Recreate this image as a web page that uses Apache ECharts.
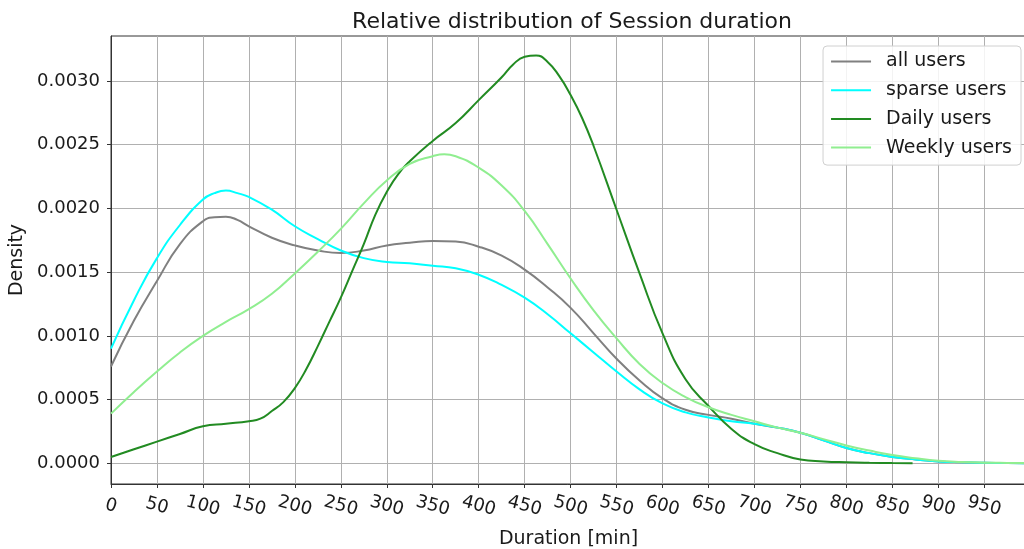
<!DOCTYPE html>
<html>
<head>
<meta charset="utf-8">
<script src="https://cdn.jsdelivr.net/npm/echarts@6/dist/echarts.min.js"></script>
<style>
html,body{margin:0;padding:0;background:#fff;}
#c{width:1024px;height:549px;}
</style>
</head>
<body>
<div id="c"></div>
<script>
// Duration values (minutes) read per series
const allDur = [0,25,50,75,100,112.5,125,137.5,150,175,200,225,250,275,300,325,350,375,400,425,450,475,500,525,550,575,600,625,650,675,700,725,750,775,800,825,850,875,900,925,950,975,1000];
const allUsers = [0.00076,0.00112,0.00143,0.00172,0.00190,0.00193,0.001935,0.00191,0.00186,0.00177,0.00171,0.00167,0.00165,0.00167,0.00171,0.00173,0.001745,0.00174,0.00170,0.00163,0.00152,0.00138,0.00122,0.00102,0.00082,0.00065,0.00051,0.00042,0.00038,0.00035,0.00031,0.00028,0.00024,0.00018,0.00012,0.00008,0.00005,0.00003,0.000015,0.000008,0.000004,0.000002,0.000001];
const sparseDur = [0,25,50,75,100,112.5,125,137.5,150,175,200,225,250,275,300,325,350,375,400,425,450,475,500,525,550,575,600,625,650,675,700,725,750,775,800,825,850,875,900,925,950,975,1000];
const sparseUsers = [0.00090,0.00128,0.00161,0.00187,0.00207,0.00212,0.00214,0.00212,0.00209,0.00199,0.00186,0.00176,0.00167,0.00161,0.00158,0.00157,0.00155,0.00153,0.00148,0.00140,0.00130,0.00117,0.00102,0.00087,0.00072,0.00058,0.00047,0.00040,0.00036,0.00033,0.00031,0.00028,0.00024,0.00018,0.00012,0.00008,0.00005,0.00003,0.000015,0.000008,0.000004,0.000002,0.000001];
const dailyDur = [0,25,50,75,100,125,150,162.5,175,187.5,200,212.5,225,237.5,250,262.5,275,287.5,300,312.5,325,350,375,400,425,437.5,450,462.5,475,487.5,500,512.5,525,550,575,600,625,650,675,700,725,750,775,800,825,850,872];
const dailyUsers = [0.00005,0.00011,0.00017,0.00023,0.00029,0.00031,0.00033,0.00035,0.00041,0.00048,0.00059,0.00074,0.00092,0.00111,0.00130,0.00151,0.00172,0.00195,0.00213,0.00227,0.00237,0.00253,0.00267,0.00285,0.00303,0.00313,0.00319,0.00320,0.00315,0.00304,0.00289,0.00271,0.00249,0.00199,0.00149,0.00102,0.00066,0.00045,0.00027,0.00015,0.00008,0.00003,0.000015,0.000008,0.000004,0.000002,0.000001];
const weeklyDur = [0,25,50,75,100,125,150,175,200,225,250,275,300,325,350,362.5,375,400,425,450,475,500,525,550,575,600,625,650,675,700,725,750,775,800,825,850,875,900,925,950,975,1000];
const weeklyUsers = [0.00039,0.00056,0.00072,0.00087,0.00100,0.00111,0.00121,0.00133,0.00149,0.00166,0.00184,0.00204,0.00222,0.00235,0.00241,0.002425,0.00241,0.00232,0.00218,0.00198,0.00172,0.00145,0.00120,0.00098,0.00078,0.00063,0.00052,0.00044,0.00038,0.00033,0.00028,0.00024,0.00019,0.00014,0.00010,0.000065,0.00004,0.00002,0.00001,0.000005,0.000003,0.000002];
const xTicks = [0,50,100,150,200,250,300,350,400,450,500,550,600,650,700,750,800,850,900,950];
const yTicks = [0,0.0005,0.001,0.0015,0.002,0.0025,0.003];

const FONT = 'DejaVu Sans';
function pairs(xs, ys){ return xs.map((x,i)=>[x, ys[i]]); }
function line(name, xs, ys, color){
  return {name, type:'line', data: pairs(xs, ys), smooth: 0.5, symbol:'none',
    lineStyle:{color, width:2}, itemStyle:{color}, z: 3, animation:false};
}
const chart = echarts.init(document.getElementById('c'), null, {renderer:'canvas'});
chart.setOption({
  animation:false,
  backgroundColor:'#fff',
  title:{text:'Relative distribution of Session duration', left:567, top:6, textAlign:'center',
    textStyle:{fontFamily:FONT, fontSize:22, fontWeight:'normal', color:'#1a1a1a'}},
  legend:{orient:'vertical', right:3, top:46, itemWidth:40, itemHeight:19, itemGap:9.7,
    padding:[6,9,8,7], backgroundColor:'rgba(255,255,255,0.85)', borderColor:'#d0d0d0', borderWidth:1, borderRadius:4,
    itemStyle:{opacity:0}, lineStyle:{width:2},
    textStyle:{fontFamily:FONT, fontSize:19, color:'#1a1a1a', padding:[0,0,0,10], lineHeight:19},
    data:['all users','sparse users','Daily users','Weekly users']},
  grid:{left:111, right:-2, top:36, bottom:65, show:true, borderColor:'#333', borderWidth:1,
    containLabel:false, outerBoundsMode:'none'},
  xAxis:{type:'value', min:0, max:995.4, name:'Duration [min]', nameLocation:'middle', nameGap:46,
    nameTextStyle:{fontFamily:FONT, fontSize:19, color:'#1a1a1a'},
    axisLine:{show:true, onZero:false, lineStyle:{color:'#333', width:1}},
    axisTick:{show:true, length:4, lineStyle:{color:'#333'}, customValues:xTicks},
    axisLabel:{customValues:xTicks, rotate:-15, align:'center', verticalAlign:'middle', margin:22,
      fontFamily:FONT, fontSize:18, color:'#1a1a1a'},
    splitLine:{show:true, lineStyle:{color:'#b0b0b0', width:1}}},
  yAxis:{type:'value', min:-0.0001624, max:0.0033532, name:'Density', nameLocation:'middle', nameGap:75,
    nameTextStyle:{fontFamily:FONT, fontSize:19, color:'#1a1a1a'},
    axisLine:{show:true, onZero:false, lineStyle:{color:'#333', width:1}},
    axisTick:{show:true, length:4, lineStyle:{color:'#333'}, customValues:yTicks},
    axisLabel:{customValues:yTicks, margin:11, fontFamily:FONT, fontSize:18, color:'#1a1a1a',
      formatter:(v)=>v.toFixed(4)},
    splitLine:{show:true, lineStyle:{color:'#b0b0b0', width:1}}},
  series:[
    line('all users', allDur, allUsers, '#808080'),
    line('sparse users', sparseDur, sparseUsers, '#00ffff'),
    line('Daily users', dailyDur, dailyUsers, '#228b22'),
    line('Weekly users', weeklyDur, weeklyUsers, '#90ee90')
  ]
});
</script>
</body>
</html>
